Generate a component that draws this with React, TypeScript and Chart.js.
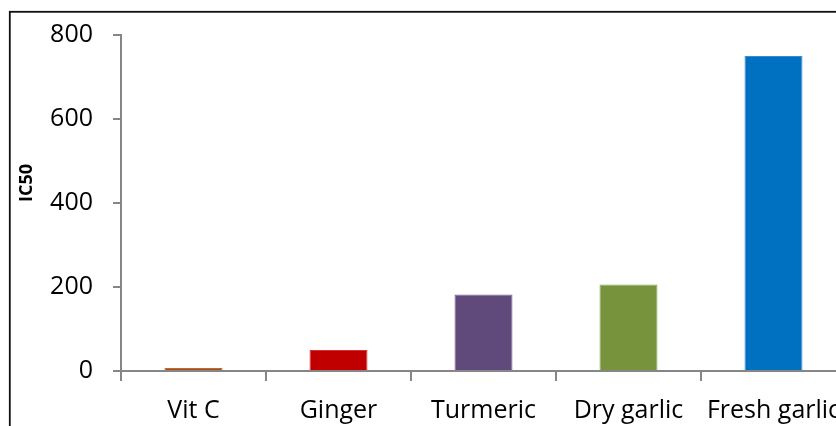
import React, { useEffect, useRef } from "react";
import { Chart, registerables } from "chart.js";

Chart.register(...registerables);

const categories = ["Vit C", "Ginger", "Turmeric", "Dry garlic", "Fresh garlic"];
const ic50Values = [7, 50, 182, 206, 750];
const barColors = ["#A0521E", "#C00000", "#604A7B", "#77933C", "#0070C0"];
const barBorders = ["#C0692E", "#D83030", "#7A6494", "#8CA852", "#3A8AD0"];
const yTitle = "IC50";

const FONT = "'Open Sans', sans-serif";

export default function App() {
  const ref = useRef<HTMLCanvasElement | null>(null);

  useEffect(() => {
    if (!ref.current) return;
    const framePlugin = {
      id: "frame",
      afterDraw(chart: any) {
        const ctx = chart.ctx;
        ctx.save();
        ctx.strokeStyle = "#111";
        ctx.lineWidth = 1.8;
        ctx.strokeRect(9.8, 11.8, 3000, 3000);
        ctx.translate(27, 183);
        ctx.rotate(-Math.PI / 2);
        ctx.font = `bold 18px ${FONT}`;
        ctx.fillStyle = "#000";
        ctx.textAlign = "center";
        ctx.textBaseline = "middle";
        ctx.fillText(yTitle, 0, 0);
        ctx.restore();
      },
    };
    const chart = new Chart(ref.current, {
      type: "bar",
      data: {
        labels: categories,
        datasets: [
          {
            data: ic50Values,
            backgroundColor: barColors,
            borderColor: barBorders,
            borderWidth: 1,
            barPercentage: 0.4,
            categoryPercentage: 1,
          },
        ],
      },
      options: {
        responsive: false,
        animation: false,
        devicePixelRatio: 1,
        layout: { padding: { left: 0, top: 33, right: 24, bottom: 0 } },
        plugins: {
          legend: { display: false },
          tooltip: { enabled: false },
        },
        scales: {
          x: {
            offset: true,
            grid: {
              offset: true,
              drawOnChartArea: false,
              drawTicks: true,
              tickLength: 10,
              color: "#868686",
              lineWidth: 2,
            },
            border: { color: "#868686", width: 2 },
            ticks: {
              autoSkip: false,
              maxRotation: 0,
              minRotation: 0,
              padding: 15,
              color: "#000",
              font: { family: FONT, size: 25 },
            },
            afterFit(scale: any) {
              scale.height = 55;
            },
          },
          y: {
            min: 0,
            max: 800,
            grid: {
              drawOnChartArea: false,
              drawTicks: true,
              tickLength: 8,
              color: "#868686",
              lineWidth: 2,
            },
            border: { color: "#868686", width: 2 },
            ticks: {
              stepSize: 200,
              padding: 20,
              color: "#000",
              font: { family: FONT, size: 25 },
            },
            afterFit(scale: any) {
              scale.width = 121;
            },
          },
        },
      },
      plugins: [framePlugin],
    });
    return () => chart.destroy();
  }, []);

  return (
    <div
      style={{
        position: "fixed",
        left: 0,
        top: 0,
        width: 836,
        height: 426,
        overflow: "hidden",
        background: "#fff",
      }}
    >
      <canvas
        ref={ref}
        width={870}
        height={426}
        style={{ width: 870, height: 426, display: "block" }}
      />
    </div>
  );
}
